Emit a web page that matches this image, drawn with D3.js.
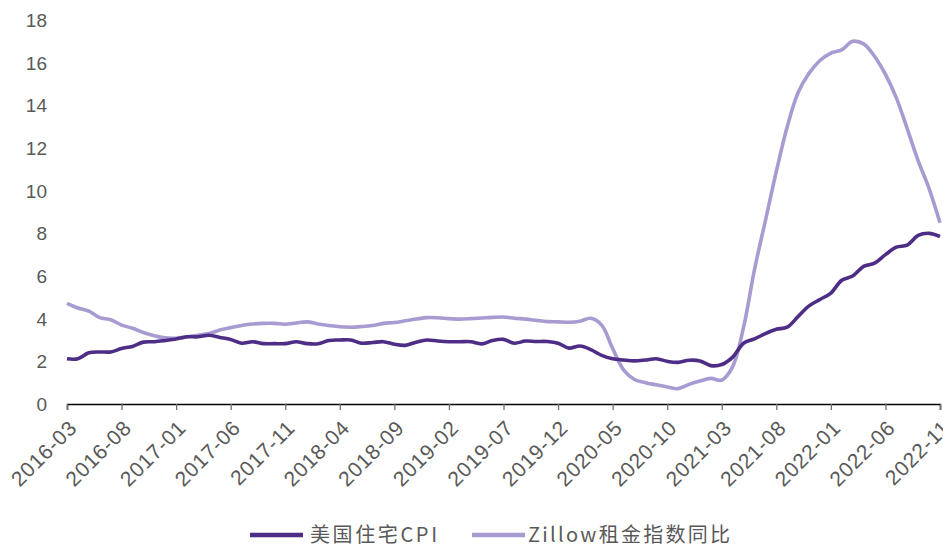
<!DOCTYPE html>
<html lang="zh">
<head>
<meta charset="utf-8" />
<title>美国住宅CPI vs Zillow租金指数</title>
<script src="https://d3js.org/d3.v7.min.js"></script>
<style>
  body { margin: 0; background: #fff; }
  svg { display: block; }
</style>
</head>
<body>
<div id="chart"></div>
<script>
// monthly data, 2016-03 .. 2022-11
const months = d3.timeMonth.range(new Date(2016, 2, 1), new Date(2022, 11, 1))
  .map(d3.timeFormat("%Y-%m"));

const housingCPI = [
  2.12, 2.12, 2.4, 2.44, 2.44, 2.6, 2.7, 2.9, 2.92, 2.98,
  3.05, 3.15, 3.15, 3.22, 3.12, 3.02, 2.85, 2.92, 2.83, 2.83,
  2.83, 2.92, 2.83, 2.82, 2.98, 3.0, 3.0, 2.85, 2.88, 2.92,
  2.8, 2.75, 2.9, 3.0, 2.95, 2.92, 2.92, 2.92, 2.82, 2.98,
  3.03, 2.85, 2.95, 2.93, 2.93, 2.85, 2.62, 2.72, 2.55, 2.28,
  2.12, 2.06, 2.02, 2.06, 2.12, 2.0, 1.95, 2.05, 2.02, 1.8,
  1.85, 2.2, 2.85, 3.05, 3.3, 3.5, 3.6, 4.1, 4.6, 4.9,
  5.2, 5.8, 6.0, 6.45, 6.6, 7.0, 7.35, 7.45, 7.9, 8.0,
  7.85
];

const zillowRent = [
  4.72, 4.5, 4.35, 4.05, 3.95, 3.7, 3.55, 3.35, 3.2, 3.1,
  3.08, 3.15, 3.22, 3.3, 3.47, 3.58, 3.68, 3.75, 3.78, 3.78,
  3.74, 3.8, 3.85, 3.75, 3.68, 3.62, 3.6, 3.63, 3.68, 3.78,
  3.82, 3.9, 3.98, 4.05, 4.04, 4.0, 3.98, 4.0, 4.03, 4.06,
  4.08, 4.02, 3.98, 3.92, 3.86, 3.85, 3.83, 3.88, 4.02, 3.7,
  2.6, 1.6, 1.15, 1.0, 0.9, 0.8, 0.72, 0.92, 1.08, 1.2,
  1.12, 1.75, 3.6, 6.3, 8.6, 10.9, 13.0, 14.6, 15.5, 16.1,
  16.45, 16.6, 17.0, 16.88, 16.3, 15.45, 14.35, 12.9, 11.4, 10.1,
  8.5
];

const yTicks = [0, 2, 4, 6, 8, 10, 12, 14, 16, 18];
const xTickLabels = months.filter((d, i) => i % 5 === 0);

const seriesNames = ["美国住宅CPI", "Zillow租金指数同比"];
const seriesColors = ["#4e2d86", "#a89bd2"];

const width = 943, height = 547;
const margin = { top: 20, right: 3, bottom: 143, left: 67 };

const x = d3.scalePoint()
    .domain(months)
    .range([margin.left, width - margin.right]);

const y = d3.scaleLinear()
    .domain([0, 18])
    .range([height - margin.bottom, margin.top]);

const svg = d3.select("#chart").append("svg")
    .attr("width", width)
    .attr("height", height)
    .attr("font-family", "'Liberation Sans', Arial, sans-serif");

// y labels (no axis line)
svg.append("g")
  .selectAll("text")
  .data(yTicks)
  .join("text")
    .attr("x", 47)
    .attr("y", d => y(d))
    .attr("dy", "0.36em")
    .attr("text-anchor", "end")
    .attr("fill", "#595959")
    .attr("font-size", 19)
    .text(d => d);

// x axis
const xAxis = svg.append("g")
    .attr("transform", `translate(0,${y(0)})`)
    .call(d3.axisBottom(x).tickValues(xTickLabels).tickSize(6).tickFormat(""));
xAxis.select(".domain").attr("stroke", "#000").attr("stroke-width", 1.5);
xAxis.selectAll(".tick line").attr("stroke", "#6f6f6f").attr("stroke-width", 1.3);

svg.append("g")
  .selectAll("text")
  .data(xTickLabels)
  .join("text")
    .attr("transform", d => `translate(${x(d) + 6},${y(0) + 20}) rotate(-45)`)
    .attr("text-anchor", "end")
    .attr("dy", "0.35em")
    .attr("fill", "#595959")
    .attr("font-size", 21)
    .attr("letter-spacing", 0.8)
    .text(d => d);

// lines
const line = d3.line()
    .x((d, i) => x(months[i]))
    .y(d => y(d))
    .curve(d3.curveCatmullRom.alpha(0.5));

svg.append("path")
    .datum(zillowRent)
    .attr("fill", "none")
    .attr("stroke", seriesColors[1])
    .attr("stroke-width", 3.6)
    .attr("stroke-linejoin", "round")
    .attr("d", line);

svg.append("path")
    .datum(housingCPI)
    .attr("fill", "none")
    .attr("stroke", seriesColors[0])
    .attr("stroke-width", 3.6)
    .attr("stroke-linejoin", "round")
    .attr("d", line);

// legend
const legendItems = [
  { name: seriesNames[0], color: seriesColors[0], x: 250, len: 127 },
  { name: seriesNames[1], color: seriesColors[1], x: 472, len: 202 }
];
const lg = svg.append("g")
  .selectAll("g")
  .data(legendItems)
  .join("g")
    .attr("transform", d => `translate(${d.x},535)`);
lg.append("line")
    .attr("x1", 0).attr("x2", 53)
    .attr("stroke", d => d.color)
    .attr("stroke-width", 4.5);
lg.append("text")
    .attr("x", (d, i) => i === 0 ? 60 : 56)
    .attr("dy", "0.35em")
    .attr("fill", "#595959")
    .attr("font-size", 20)
    .attr("font-family", "'Noto Sans CJK SC', sans-serif")
    .attr("textLength", d => d.len)
    .attr("lengthAdjust", "spacing")
    .text(d => d.name);
</script>
</body>
</html>
